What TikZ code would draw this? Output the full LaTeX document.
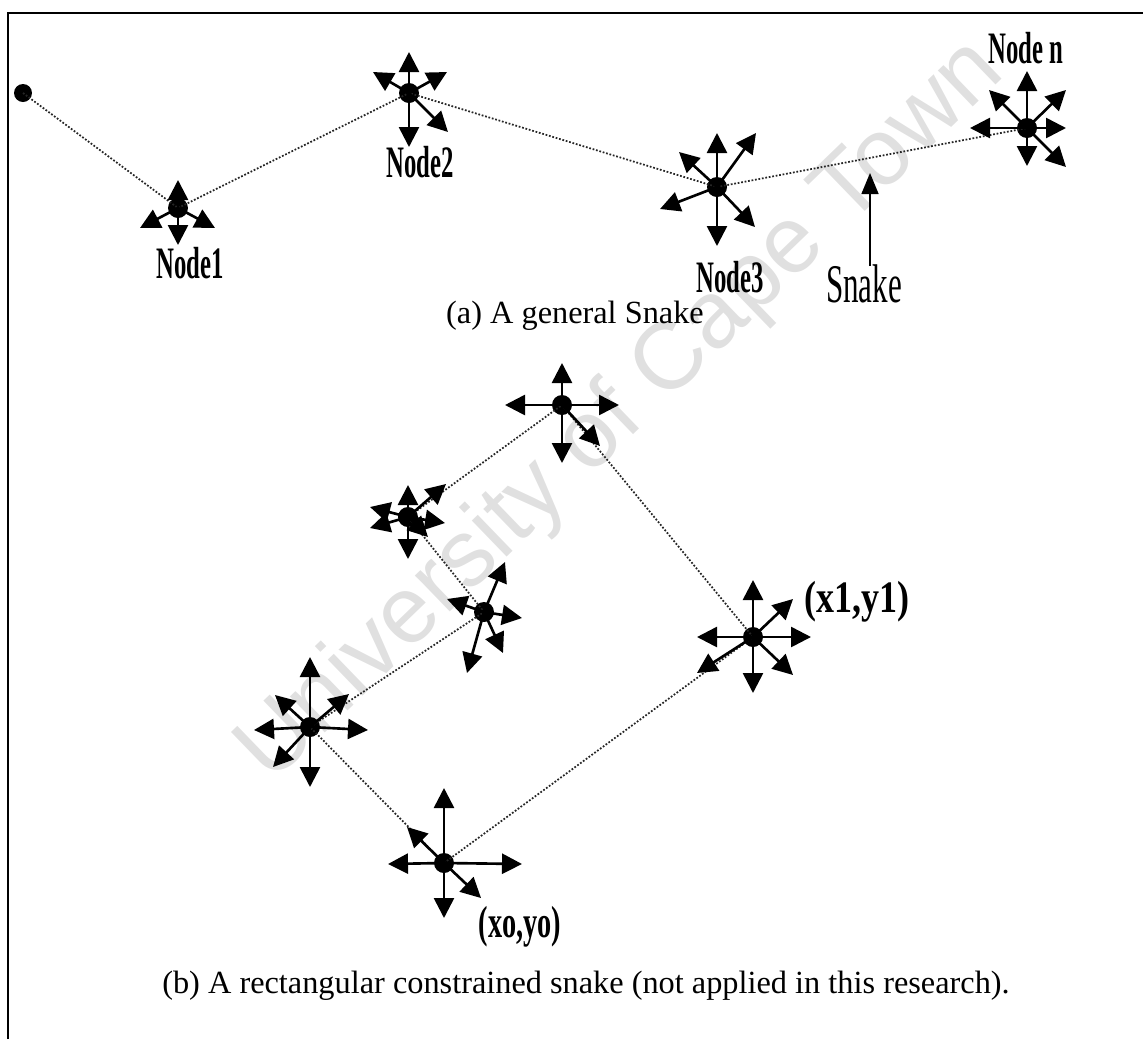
\documentclass[tikz,border=0pt]{standalone}
\usepackage{graphicx}
\usepackage{fontspec}
\setmainfont{Liberation Serif}
\newfontfamily\wmfont{Liberation Sans}
\usetikzlibrary{arrows.meta}
\begin{document}
\begin{tikzpicture}[x=0.02cm,y=-0.02cm,
  spoke/.style={line width=1.5pt,-{Triangle[length=0.4cm,width=0.4cm]}},
  dot/.style={circle,fill=black,inner sep=0pt,minimum size=0.4cm},
  chain/.style={densely dotted,line width=1pt,black!85},
  tag/.style={inner sep=0pt,anchor=base,font=\fontsize{25.6}{28}\selectfont\bfseries},
  bigtag/.style={inner sep=0pt,anchor=base,font=\fontsize{31}{34}\selectfont},
  caption/.style={inner sep=0pt,anchor=base,font=\fontsize{18.4}{22}\selectfont},
  pointer/.style={line width=0.9pt,-{Triangle[length=0.42cm,width=0.34cm]}},
]
\useasboundingbox (0,0) rectangle (1143,1039);

% watermark
\node[rotate=44,inner sep=0pt,text=black!12,font=\wmfont\fontsize{54}{60}\selectfont] (wm) at (622,412) {University of Cape Town};

% frame
\draw[line width=1.2pt] (8,1039) -- (8,13) -- (1143,13);

% ---------- (a) general snake ----------
\node[dot,minimum size=0.36cm] (s0) at (23,93) {};
\node[dot] (a1) at (178,208) {};
\node[dot] (a2) at (409,93) {};
\node[dot] (a3) at (717,187) {};
\node[dot] (an) at (1027,128) {};

\draw[chain] (s0.center) -- (a1.center) -- (a2.center) -- (a3.center) -- (an.center);

\foreach \d in {(0,-28),(0,37),(-38,20),(37,20)}
  \draw[spoke] (a1.center) -- ++\d;
\foreach \d in {(0,-41),(0,54),(-36,-21),(38,-21),(39,39)}
  \draw[spoke] (a2.center) -- ++\d;
\foreach \d in {(0,-54),(0,59),(-38,-35),(39,-54),(-57,22),(38,40)}
  \draw[spoke] (a3.center) -- ++\d;
\foreach \d in {(0,-57),(0,38),(-57,0),(39,0),(-38,-38),(39,-38),(39,39)}
  \draw[spoke] (an.center) -- ++\d;

\node[tag] (t1) at (190,278) {\scalebox{0.55}[1]{Node1}};
\node[tag] (t2) at (420,177) {\scalebox{0.55}[1]{Node2}};
\node[tag] (t3) at (730,292) {\scalebox{0.55}[1]{Node3}};
\node[tag] (tn) at (1026,63) {\scalebox{0.55}[1]{Node n}};

\node[bigtag] (snk) at (864,302) {\scalebox{0.57}[1]{Snake}};
\coordinate (snktip) at (870,173);
\draw[pointer] (870,266) -- (snktip);

\node[caption] (capa) at (575,323) {(a) A general Snake};

% ---------- (b) rectangular constrained snake ----------
\node[dot] (bt) at (562,405) {};
\node[dot] (bl) at (408,517) {};
\node[dot] (bm) at (484,612) {};
\node[dot] (bll) at (310,727) {};
\node[dot] (bb) at (444,863) {};
\node[dot] (br) at (753,637) {};

\draw[chain] (bb.center) -- (br.center) -- (bt.center) -- (bl.center)
  -- (bm.center) -- (bll.center) -- (bb.center);

\foreach \d in {(0,-42),(0,58),(-57,0),(57,0),(38,41)}
  \draw[spoke] (bt.center) -- ++\d;
\foreach \d in {(0,-32),(0,42),(38,-33),(37,6),(-38,-10),(-38,11),(20,20)}
  \draw[spoke] (bl.center) -- ++\d;
\foreach \d in {(21,-50),(-37,-13),(38,6),(19,41),(-17,61)}
  \draw[spoke] (bm.center) -- ++\d;
\foreach \d in {(0,-70),(0,60),(-56,3),(58,3),(-35,-32),(39,-33),(-37,40)}
  \draw[spoke] (bll.center) -- ++\d;
\foreach \d in {(0,-75),(0,55),(-56,1),(78,1),(-37,-36),(37,35)}
  \draw[spoke] (bb.center) -- ++\d;
\foreach \d in {(0,-57),(0,56),(-56,0),(58,0),(40,-38),(40,38),(-56,36)}
  \draw[spoke] (br.center) -- ++\d;

\node[tag] (txo) at (520,937) {\scalebox{0.63}[1]{(xo,yo)}};
\node[tag] (tx1) at (857,612) {\scalebox{0.8}[1]{(x1,y1)}};

\node[caption] (capb) at (586,993) {(b) A rectangular constrained snake (not applied in this research).};
\end{tikzpicture}
\end{document}
